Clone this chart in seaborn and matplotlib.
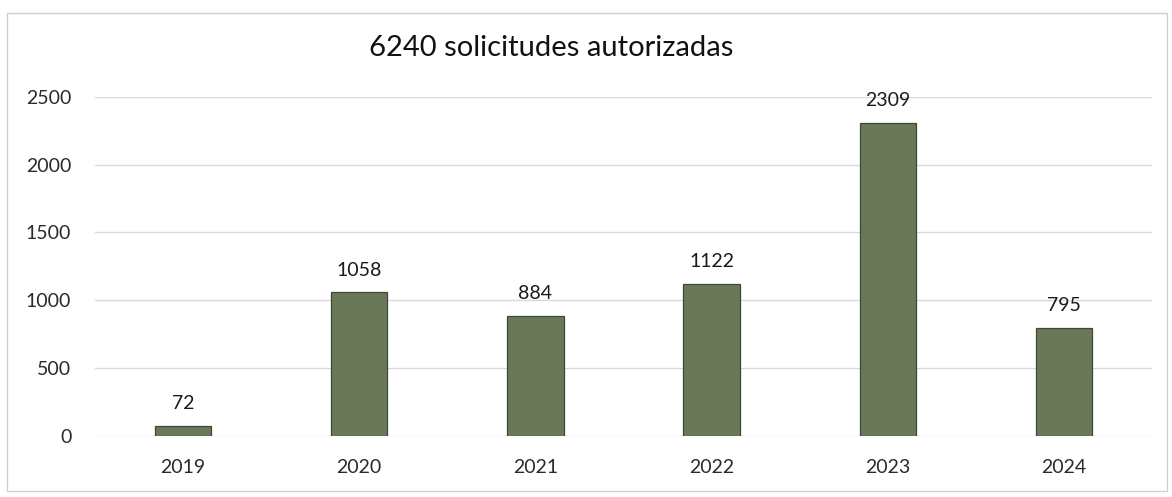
import matplotlib
matplotlib.use("Agg")
import matplotlib.pyplot as plt
import seaborn as sns
import pandas as pd

years = ["2019", "2020", "2021", "2022", "2023", "2024"]
solicitudes = [72, 1058, 884, 1122, 2309, 795]
title = "6240 solicitudes autorizadas"

df = pd.DataFrame({"year": years, "value": solicitudes})

sns.set_style("white")
plt.rcParams["font.family"] = ["Lato", "DejaVu Sans"]

fig = plt.figure(figsize=(11.72, 4.97), dpi=100)
ax = fig.add_axes([0.081, 0.123, 0.902, 0.682])

sns.barplot(data=df, x="year", y="value", color="#6a7859", width=0.32,
            saturation=1, edgecolor="#3f4836", linewidth=0.9, ax=ax)

for i, v in enumerate(df["value"]):
    ax.annotate(str(v), (i, v), xytext=(0, 10), textcoords="offset points",
                ha="center", va="bottom", fontsize=14, color="#1a1a1a")

ax.set_ylim(0, 2500)
ax.set_xlim(-0.5, 5.5)
ax.set_yticks([0, 500, 1000, 1500, 2000, 2500])
ax.yaxis.grid(True, color="#d9d9d9", linewidth=1)
ax.set_axisbelow(True)
for s in ax.spines.values():
    s.set_visible(False)
ax.set_xlabel("")
ax.set_ylabel("")
ax.tick_params(axis="both", length=0, labelsize=14, labelcolor="#2a2a2a")
ax.tick_params(axis="x", pad=17)
ax.tick_params(axis="y", pad=17)

fig.text(0.47, 0.903, title, ha="center", va="center", fontsize=21, color="#111111")

# thin frame around the chart area
fig.patches.append(plt.Rectangle((0.006, 0.012), 0.99, 0.962, transform=fig.transFigure,
                                 fill=False, edgecolor="#cfcfcf", linewidth=1))

fig.savefig("out.png", dpi=100)
